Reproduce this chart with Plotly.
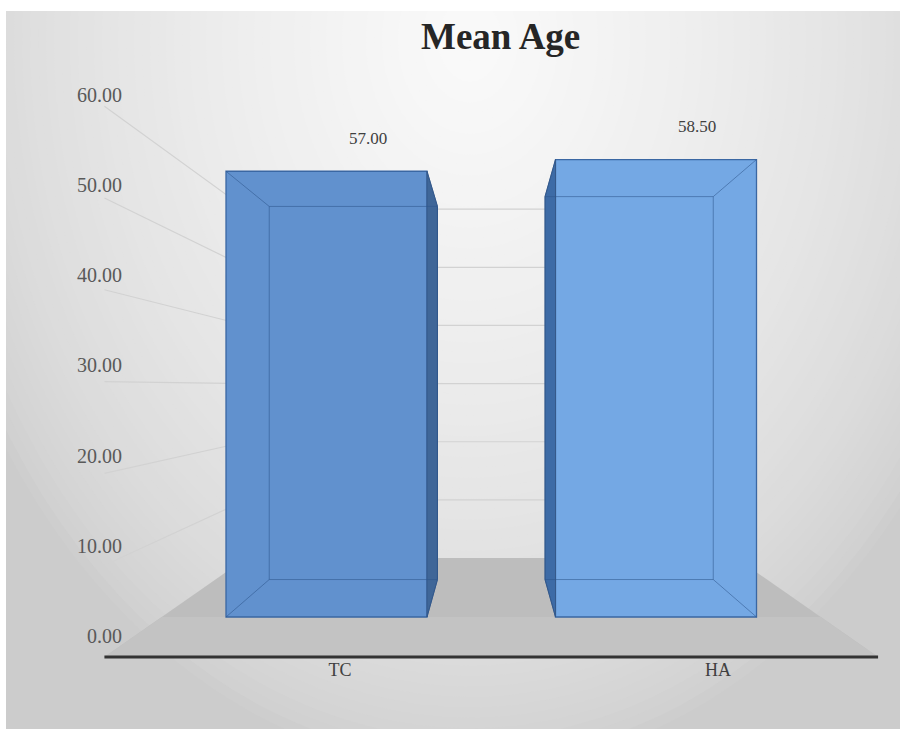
import plotly.graph_objects as go

# ---------------- data ----------------
categories = ["TC", "HA"]
mean_age = [57.00, 58.50]
y_ticks = [0, 10, 20, 30, 40, 50, 60]
y_tick_text = [f"{v:.2f}" for v in y_ticks]
title_text = "Mean Age"

# ---------------- layout model ----------------
W, H = 900, 729
FRAME_L, FRAME_T = 6, 11

# bar-front plane (main axes)
BAR_PX0, BAR_PX_PER_CAT = 326.5, 329.5
BASE_PY, PY_PER_VAL = 617.0, 7.82
# value-label plane (yaxis2) and category-label plane (xaxis2)
LAB_PY0, LAB_PY_PER_VAL = 636.0, 9.017
CAT_PX0, CAT_PX_PER_CAT = 340.0, 378.0

V = (0.5, 29.4)           # vanishing point in data coords
D_FLOOR_FRONT = -0.174
D_FLOOR_BACK = 0.2565
D_BAR_BACK = 0.163
BAR_W = 0.61

x_range = [(0 - BAR_PX0) / BAR_PX_PER_CAT, (W - BAR_PX0) / BAR_PX_PER_CAT]
y_range = [(BASE_PY - H) / PY_PER_VAL, BASE_PY / PY_PER_VAL]
y2_range = [(LAB_PY0 - H) / LAB_PY_PER_VAL, LAB_PY0 / LAB_PY_PER_VAL]
x2_range = [(0 - CAT_PX0) / CAT_PX_PER_CAT, (W - CAT_PX0) / CAT_PX_PER_CAT]


def proj(x, y, d):
    return (x + d * (V[0] - x), y + d * (V[1] - y))


def path(pts, close=True):
    s = "M " + " L ".join(f"{x:.5f},{y:.5f}" for x, y in pts)
    return s + (" Z" if close else "")


def gray(level):
    g = max(0, min(255, int(round(level))))
    return f"rgb({g},{g},{g})"


shapes = []

# background frame with soft radial light (opaque concentric rings)
BG_EDGE, BG_CENTER = 204, 250
shapes.append(dict(type="rect", xref="paper", yref="paper", layer="below",
                   x0=FRAME_L / W, x1=1.01, y0=-0.01, y1=1 - FRAME_T / H,
                   fillcolor=gray(BG_EDGE), line=dict(width=0)))
N = 70
CX, CY, RX, RY = 470, 40, 560, 730
for k in range(N, 0, -1):
    t = (k - 0.5) / N
    rx, ry = RX * k / N, RY * k / N
    shapes.append(dict(type="circle", xref="paper", yref="paper", layer="below",
                       x0=(CX - rx) / W, x1=(CX + rx) / W,
                       y0=1 - (CY + ry) / H, y1=1 - (CY - ry) / H,
                       fillcolor=gray(BG_EDGE + (BG_CENTER - BG_EDGE) * (1 - t) ** 0.6),
                       line=dict(width=0)))
# white border cover (top and left)
shapes.append(dict(type="rect", xref="paper", yref="paper", layer="below",
                   x0=-0.01, x1=1.01, y0=1 - FRAME_T / H, y1=1.01,
                   fillcolor="white", line=dict(width=0)))
shapes.append(dict(type="rect", xref="paper", yref="paper", layer="below",
                   x0=-0.01, x1=FRAME_L / W, y0=-0.01, y1=1.01,
                   fillcolor="white", line=dict(width=0)))

x_left, x_right = -0.5, len(categories) - 0.5

# floor
shapes.append(dict(type="path", xref="x", yref="y", layer="below",
                   path=path([proj(x_left, 0, D_FLOOR_FRONT), proj(x_right, 0, D_FLOOR_FRONT),
                              proj(x_right, 0, D_FLOOR_BACK), proj(x_left, 0, D_FLOOR_BACK)]),
                   fillcolor="#bdbdbd", line=dict(width=0)))
shapes.append(dict(type="path", xref="x", yref="y", layer="below",
                   path=path([proj(x_left, 0, D_FLOOR_FRONT), proj(x_right, 0, D_FLOOR_FRONT),
                              proj(x_right, 0, 0), proj(x_left, 0, 0)]),
                   fillcolor="#c3c3c3", line=dict(width=0)))

# side-wall / back-wall gridlines
for v in y_ticks[1:]:
    pts = [proj(x_left, v, D_FLOOR_FRONT), proj(x_left, v, D_FLOOR_BACK),
           proj(x_right, v, D_FLOOR_BACK)]
    shapes.append(dict(type="path", xref="x", yref="y", layer="below",
                       path=path(pts, close=False),
                       line=dict(color="#d2d2d2", width=1.2)))

# category axis line along floor front
a0 = proj(x_left, 0, D_FLOOR_FRONT)
a1 = proj(x_right, 0, D_FLOOR_FRONT)
shapes.append(dict(type="line", xref="x", yref="y", layer="below",
                   x0=a0[0], y0=a0[1], x1=a1[0], y1=a1[1],
                   line=dict(color="#333333", width=3)))

# 3D bar decorations
bar_colors = ["#6191ce", "#74a8e4"]
side_colors = ["#3f6698", "#3d6ba6"]
edge = "rgba(45,85,140,0.55)"
for i, v in enumerate(mean_age):
    xl, xr = i - BAR_W / 2, i + BAR_W / 2
    xs = xr if i < V[0] else xl
    shapes.append(dict(type="path", xref="x", yref="y", layer="above",
                       path=path([proj(xs, 0, 0), proj(xs, v, 0),
                                  proj(xs, v, D_BAR_BACK), proj(xs, 0, D_BAR_BACK)]),
                       fillcolor=side_colors[i], line=dict(color="#35598a", width=1)))
    back = [proj(xl, 0, D_BAR_BACK), proj(xr, 0, D_BAR_BACK),
            proj(xr, v, D_BAR_BACK), proj(xl, v, D_BAR_BACK)]
    shapes.append(dict(type="path", xref="x", yref="y", layer="above",
                       path=path(back), line=dict(color=edge, width=1)))
    for (cx, cy) in [(xl, 0), (xr, 0), (xr, v), (xl, v)]:
        b = proj(cx, cy, D_BAR_BACK)
        shapes.append(dict(type="line", xref="x", yref="y", layer="above",
                           x0=cx, y0=cy, x1=b[0], y1=b[1],
                           line=dict(color=edge, width=1)))

fig = go.Figure()
fig.add_trace(go.Bar(x=list(range(len(categories))), y=mean_age, width=BAR_W,
                     marker=dict(color=bar_colors, line=dict(color="#3a67a3", width=1.3)),
                     hoverinfo="skip", showlegend=False))
fig.add_trace(go.Scatter(x=[], y=[], xaxis="x2", yaxis="y2", showlegend=False,
                         hoverinfo="skip"))

annotations = [dict(text=f"<b>{title_text}</b>", xref="paper", yref="paper",
                    x=500 / W, y=1 - 37 / H, xanchor="center", yanchor="middle",
                    showarrow=False,
                    font=dict(family="Liberation Serif", size=37, color="#262626"))]
for i, v in enumerate(mean_age):
    annotations.append(dict(text=f"{v:.2f}", x=i, y=v, xref="x", yref="y",
                            xshift=41, yshift=33, showarrow=False,
                            xanchor="center", yanchor="middle",
                            font=dict(family="Liberation Serif", size=17, color="#404040")))

fig.update_layout(
    width=W, height=H, autosize=False,
    margin=dict(l=0, r=0, t=0, b=0, pad=0),
    paper_bgcolor="white", plot_bgcolor="rgba(0,0,0,0)",
    showlegend=False,
    xaxis=dict(range=x_range, visible=False, domain=[0, 1], fixedrange=True),
    yaxis=dict(range=y_range, visible=False, domain=[0, 1], fixedrange=True),
    xaxis2=dict(overlaying="x", anchor="free", position=(H - 657) / H, side="bottom",
                range=x2_range, tickvals=list(range(len(categories))), ticktext=categories,
                showgrid=False, zeroline=False, showline=False, ticks="",
                tickfont=dict(family="Liberation Serif", size=18, color="#404040")),
    yaxis2=dict(overlaying="y", anchor="free", position=122 / W, side="left",
                range=y2_range, tickvals=y_ticks, ticktext=y_tick_text,
                showgrid=False, zeroline=False, showline=False, ticks="",
                tickfont=dict(family="Liberation Serif", size=20, color="#595959")),
    shapes=shapes,
    annotations=annotations,
)

fig.write_html("out.html")
